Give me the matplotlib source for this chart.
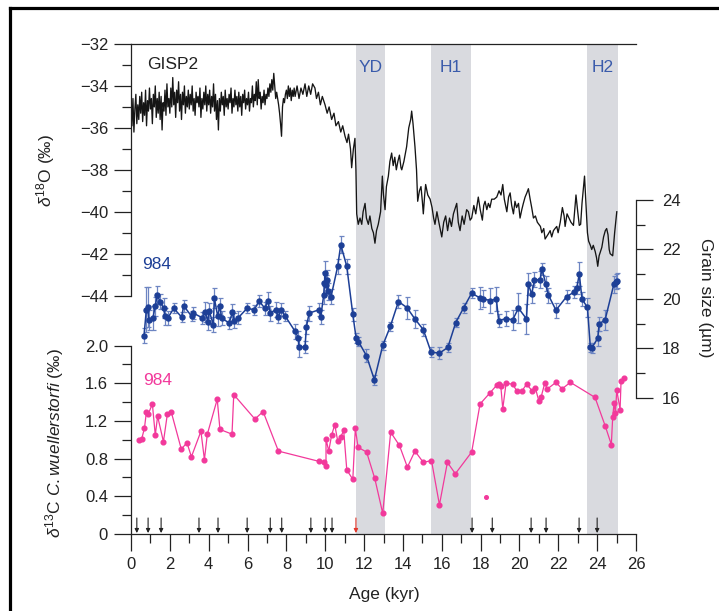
import matplotlib
matplotlib.use("Agg")
import matplotlib.pyplot as plt
import numpy as np
from matplotlib.lines import Line2D
from matplotlib.ticker import MultipleLocator

plt.rcParams["font.family"] = ["Liberation Sans", "DejaVu Sans"]
plt.rcParams["mathtext.fontset"] = "custom"
plt.rcParams["mathtext.rm"] = "Liberation Sans"
plt.rcParams["mathtext.it"] = "Liberation Sans:italic"

# GISP2 d18O, Holocene part on a regular 50-yr grid starting at 0 kyr
HOLO_STEP = 0.05
gisp2_holo = [
    -35.0, -35.9, -34.6, -36.2, -35.1, -34.4, -35.8, -34.9, -35.6, -34.5,
    -35.3, -34.3, -35.7, -34.8, -35.4, -34.2, -35.9, -34.7, -35.2, -34.1,
    -35.1, -34.6, -35.8, -34.4, -35.0, -34.0, -35.5, -34.6, -35.3, -34.3,
    -35.6, -34.5, -36.1, -34.8, -35.2, -34.2, -35.4, -33.9, -35.0, -34.6,
    -35.3, -34.1, -35.0, -33.6, -34.9, -34.3, -35.5, -34.2, -34.8, -33.8,
    -35.2, -34.4, -35.6, -34.3, -34.9, -34.0, -35.3, -34.5, -35.0, -34.2,
    -35.1, -34.4, -34.9, -34.0, -35.2, -34.6, -35.4, -34.3, -34.8, -34.5,
    -35.0, -34.1, -35.5, -34.6, -35.1, -34.3, -34.9, -34.0, -35.2, -34.4,
    -34.9, -34.2, -35.3, -34.5, -35.0, -33.9, -35.2, -34.4, -35.6, -34.7,
    -36.1, -34.6, -35.2, -34.3, -34.9, -34.5, -35.4, -34.2, -35.0, -34.6,
    -35.1, -34.4, -34.8, -34.1, -35.3, -34.6, -35.0, -34.2, -34.9, -34.5,
    -35.2, -34.3, -35.0, -34.5, -35.4, -34.4, -34.8, -34.2, -35.1, -34.6,
    -34.9, -34.3, -35.2, -34.6, -34.8, -34.0, -35.0, -34.4, -34.7, -33.8,
    -34.9, -33.7, -34.6, -34.3, -35.1, -34.5, -34.8, -34.2, -34.9, -34.4,
    -34.6, -34.1, -34.5, -33.9, -34.3, -33.7, -34.2, -33.4, -34.0, -34.6,
    -34.3, -34.6, -34.9, -35.3, -35.8, -36.4, -35.0, -34.6, -34.8, -34.4,
    -34.2, -34.6, -34.0, -34.5, -34.1, -34.7, -34.2, -34.5, -34.1,
]
# GISP2 d18O, deglacial and glacial part
gisp2_age = [
    8.45, 8.55, 8.65, 8.75, 8.85, 8.96, 9.05, 9.15, 9.25, 9.35,
    9.47, 9.55, 9.65, 9.75, 9.85, 9.99, 10.1, 10.2, 10.33, 10.45,
    10.55, 10.68, 10.8, 10.9, 11.02, 11.12, 11.2, 11.3, 11.36, 11.45,
    11.53, 11.58, 11.62, 11.7, 11.79, 11.88, 11.95, 12.05, 12.12, 12.22,
    12.3, 12.4, 12.48, 12.56, 12.64, 12.73, 12.85, 12.94, 13.0, 13.08,
    13.15, 13.25, 13.33, 13.42, 13.5, 13.58, 13.66, 13.74, 13.82, 13.9,
    13.94, 14.05, 14.19, 14.3, 14.4, 14.45, 14.52, 14.62, 14.7, 14.76,
    14.85, 14.93, 15.0, 15.05, 15.12, 15.17, 15.28, 15.4, 15.5, 15.58,
    15.65, 15.75, 15.85, 16.0, 16.1, 16.2, 16.3, 16.4, 16.5, 16.6,
    16.77, 16.85, 16.94, 17.05, 17.15, 17.28, 17.37, 17.46, 17.54, 17.65,
    17.75, 17.88, 17.98, 18.09, 18.16, 18.23, 18.32, 18.4, 18.48, 18.57,
    18.7, 18.83, 18.95, 19.05, 19.14, 19.22, 19.35, 19.44, 19.52, 19.6,
    19.69, 19.77, 19.85, 19.95, 20.03, 20.12, 20.2, 20.29, 20.38, 20.46,
    20.55, 20.63, 20.72, 20.82, 20.92, 21.0, 21.08, 21.15, 21.25, 21.32,
    21.49, 21.58, 21.66, 21.75, 21.83, 21.92, 21.99, 22.1, 22.21, 22.3,
    22.35, 22.45, 22.55, 22.65, 22.78, 22.85, 22.91, 23.0, 23.08, 23.15,
    23.22, 23.3, 23.35, 23.42, 23.5, 23.56, 23.65, 23.72, 23.8, 23.9,
    23.97, 24.03, 24.1, 24.17, 24.24, 24.33, 24.42, 24.49, 24.56, 24.62,
    24.67, 24.8, 24.9, 25.01,
]
gisp2_d18o = [
    -34.5, -34.0, -34.6, -34.1, -34.4, -33.9, -34.5, -34.0, -34.4, -33.9,
    -34.1, -34.6, -34.3, -34.9, -34.5, -34.9, -35.3, -35.0, -35.6, -35.3,
    -35.9, -35.7, -36.2, -35.9, -36.4, -36.7, -36.3, -37.0, -37.9, -37.0,
    -36.5, -38.0, -40.1, -40.6, -40.3, -40.6, -40.0, -39.6, -40.3, -40.6,
    -40.2, -40.8, -41.0, -41.5, -40.9, -40.6, -40.0, -38.3, -39.2, -39.9,
    -38.8, -38.3, -37.6, -37.2, -37.8, -37.4, -38.0, -37.6, -37.3, -37.9,
    -38.0, -37.6, -36.9, -36.0, -35.6, -35.2, -35.8, -36.9, -38.0, -39.5,
    -39.0, -38.8, -39.5, -40.1, -39.2, -38.7, -39.2, -39.4, -39.8, -40.3,
    -40.6, -40.0, -40.5, -41.2, -40.5, -40.2, -40.9, -40.3, -40.7, -40.1,
    -39.6, -40.5, -40.9, -40.2, -40.6, -39.9, -40.0, -40.4, -40.3, -39.7,
    -40.1, -39.3, -39.9, -40.4, -39.7, -39.5, -39.9, -39.6, -39.8, -39.4,
    -39.4, -39.3, -39.0, -39.2, -38.7, -39.4, -40.0, -39.3, -39.1, -39.7,
    -40.1, -39.5, -39.8, -39.6, -40.3, -39.9, -39.6, -39.3, -39.1, -38.9,
    -39.4, -39.8, -40.3, -40.2, -40.5, -40.6, -40.7, -41.0, -40.8, -41.3,
    -41.05, -40.9, -41.2, -40.9, -40.8, -40.7, -41.0, -40.5, -39.8, -40.2,
    -40.7, -40.1, -40.3, -40.5, -40.65, -39.9, -39.2, -40.0, -40.65, -40.6,
    -39.6, -38.8, -38.3, -39.6, -41.0, -41.4, -41.6, -41.8, -41.6, -41.9,
    -42.2, -42.6, -42.1, -41.9, -41.7, -41.2, -40.9, -40.8, -41.1, -41.8,
    -42.0, -42.1, -41.0, -40.0,
]

# core 984 grain size (um) with error bars
blue_age = [
    0.67, 0.79, 0.86, 0.91, 1.13, 1.24, 1.36, 1.49, 1.68, 1.75,
    1.89, 2.20, 2.61, 2.71, 3.12, 3.21, 3.67, 3.83, 3.95, 4.02,
    4.24, 4.29, 4.46, 4.58, 4.67, 5.05, 5.22, 5.32, 5.53, 5.97,
    6.35, 6.59, 6.90, 7.04, 7.17, 7.45, 7.59, 7.72, 7.93, 8.45,
    8.62, 8.64, 8.96, 9.03, 9.17, 9.70, 9.77, 9.92, 9.96, 10.00,
    10.04, 10.07, 10.16, 10.30, 10.64, 10.80, 11.11, 11.42, 11.59, 11.71,
    12.12, 12.53, 12.96, 13.35, 13.77, 14.21, 14.62, 15.05, 15.45, 15.88,
    16.31, 16.72, 17.13, 17.54, 17.95, 18.13, 18.49, 18.81, 18.93, 19.33,
    19.65, 19.95, 20.36, 20.46, 20.63, 20.77, 21.06, 21.16, 21.35, 21.49,
    21.88, 22.43, 22.83, 22.95, 23.08, 23.22, 23.50, 23.65, 23.72, 24.03,
    24.10, 24.41, 24.86, 24.96, 25.04,
]
blue_size = [
    18.50, 19.56, 19.66, 19.15, 19.22, 19.69, 20.16, 19.89, 19.62, 19.29,
    19.22, 19.61, 19.26, 19.72, 19.29, 19.42, 19.23, 19.47, 19.07, 19.52,
    18.95, 20.03, 19.31, 19.69, 19.22, 19.02, 19.45, 19.12, 19.24, 19.61,
    19.56, 19.91, 19.61, 19.93, 19.42, 19.56, 19.26, 19.56, 19.31, 18.68,
    18.41, 18.05, 18.05, 18.86, 19.42, 19.56, 19.26, 20.15, 20.63, 21.04,
    20.55, 20.77, 20.30, 20.09, 21.31, 22.19, 21.31, 19.37, 18.41, 18.27,
    17.70, 16.72, 18.11, 18.88, 19.89, 19.64, 19.18, 18.75, 17.84, 17.80,
    18.03, 19.04, 19.64, 20.23, 20.04, 20.00, 19.93, 19.99, 19.12, 19.20,
    19.15, 19.62, 19.19, 20.59, 20.19, 20.77, 20.77, 21.21, 20.61, 20.15,
    19.54, 20.09, 20.28, 20.43, 21.01, 19.99, 19.65, 18.03, 18.01, 18.40,
    18.98, 19.15, 20.59, 20.70, 20.73,
]
blue_err = [
    0.30, 0.90, 0.80, 0.40, 0.50, 0.40, 0.35, 0.30, 0.40, 0.35,
    0.30, 0.20, 0.20, 0.25, 0.20, 0.25, 0.25, 0.40, 0.35, 0.30,
    0.30, 0.40, 0.40, 0.35, 0.30, 0.25, 0.35, 0.30, 0.25, 0.20,
    0.20, 0.25, 0.25, 0.35, 0.30, 0.30, 0.25, 0.25, 0.20, 0.30,
    0.30, 0.40, 0.25, 0.30, 0.30, 0.25, 0.30, 0.35, 0.45, 0.50,
    0.40, 0.40, 0.35, 0.30, 0.30, 0.35, 0.30, 0.25, 0.20, 0.20,
    0.25, 0.20, 0.20, 0.20, 0.25, 0.45, 0.35, 0.25, 0.20, 0.25,
    0.20, 0.20, 0.20, 0.20, 0.45, 0.35, 0.50, 0.50, 0.25, 0.30,
    0.40, 0.60, 0.60, 0.45, 0.35, 0.30, 0.35, 0.25, 0.30, 0.30,
    0.30, 0.25, 0.25, 0.25, 0.50, 0.30, 0.40, 0.20, 0.20, 0.30,
    0.30, 0.40, 0.35, 0.30, 0.30,
]

# core 984 benthic d13C (C. wuellerstorfi)
pink_age = [
    0.43, 0.55, 0.69, 0.79, 0.88, 1.10, 1.25, 1.37, 1.67, 1.87,
    2.08, 2.59, 2.88, 3.11, 3.60, 3.78, 3.93, 4.44, 4.58, 5.20,
    5.29, 6.38, 6.80, 7.59, 9.70, 9.95, 10.04, 10.04, 10.18, 10.33,
    10.49, 10.64, 10.80, 10.95, 11.11, 11.42, 11.55, 11.69, 12.13, 12.55,
    12.96, 13.37, 13.82, 14.23, 14.62, 15.05, 15.47, 15.88, 16.29, 16.70,
    17.54, 17.97, 18.49, 18.83, 18.93, 19.04, 19.14, 19.31, 19.65, 19.86,
    20.13, 20.37, 20.65, 20.82, 21.00, 21.11, 21.30, 21.44, 21.88, 22.19,
    22.62, 23.89, 24.41, 24.73, 24.80, 24.87, 24.94, 25.01, 25.18, 25.23,
    25.37,
]
pink_d13c = [
    1.00, 1.01, 1.12, 1.29, 1.27, 1.38, 1.05, 1.25, 0.98, 1.27,
    1.29, 0.90, 0.97, 0.82, 1.09, 0.79, 1.06, 1.43, 1.11, 1.06,
    1.48, 1.22, 1.30, 0.88, 0.77, 0.76, 0.72, 1.01, 0.88, 1.05,
    1.16, 0.99, 1.03, 1.10, 0.68, 0.58, 1.12, 0.92, 0.87, 0.59,
    0.22, 1.08, 0.94, 0.71, 0.88, 0.76, 0.78, 0.31, 0.76, 0.64,
    0.87, 1.38, 1.50, 1.58, 1.59, 1.57, 1.33, 1.60, 1.59, 1.52,
    1.52, 1.59, 1.52, 1.55, 1.41, 1.45, 1.60, 1.54, 1.61, 1.54,
    1.61, 1.45, 1.15, 0.95, 1.24, 1.39, 1.28, 1.53, 1.32, 1.62,
    1.66,
]
pink_lone_age = [18.30]
pink_lone_d13c = [0.39]

# event bands and dated levels
bands = [("YD", 11.58, 13.08), ("H1", 15.45, 17.5), ("H2", 23.5, 25.08)]
date_ages = [0.3, 0.88, 1.55, 3.5, 4.48, 5.98, 7.17, 7.76, 9.26, 10.0,
             10.35, 11.58, 17.56, 18.6, 20.6, 21.37, 23.07, 24.0]
date_red = 11.58

BLUE = "#1d3f96"
BLUE_ERR = "#6d85c2"
PINK = "#f2399b"
LABEL_BLUE = "#3a5bab"
BAND = "#d9dadf"
INK = "#222222"

W, H = 719, 611
fig = plt.figure(figsize=(W / 100, H / 100), dpi=100)

X0, X1 = 131, 636
Y_TOP, Y_BOT = 44, 534
rect = [X0 / W, 1 - Y_BOT / H, (X1 - X0) / W, (Y_BOT - Y_TOP) / H]


def ylim_for(value, px, px_per_unit):
    return value - (Y_BOT - px) / px_per_unit, value + (px - Y_TOP) / px_per_unit


def style(ax):
    ax.patch.set_visible(False)
    ax.set_xlim(0, 26)
    for s in ax.spines.values():
        s.set_visible(False)
        s.set_linewidth(0.9)
        s.set_color(INK)
    ax.tick_params(which="major", length=12.5, width=0.9, color=INK,
                   labelsize=12, labelcolor=INK, pad=4)
    ax.tick_params(which="minor", length=6.5, width=0.9, color=INK)


base = fig.add_axes(rect)
style(base)
base.set_ylim(0, 1)
base.spines["top"].set_visible(True)
base.spines["bottom"].set_visible(True)
base.set_yticks([])
base.xaxis.set_major_locator(MultipleLocator(2))
base.xaxis.set_minor_locator(MultipleLocator(1))
for name, a0, a1 in bands:
    base.axvspan(a0, a1, ymin=0, ymax=1.005, color=BAND, lw=0, zorder=0)
    base.text((a0 + a1) / 2, 0.953, name, ha="center", va="center",
              color=LABEL_BLUE, fontsize=12.5)

# GISP2 oxygen isotopes, upper left scale
ax_o = fig.add_axes(rect)
style(ax_o)
ax_o.set_ylim(*ylim_for(-32, 44, 20.97))
ax_o.spines["left"].set_visible(True)
ax_o.spines["left"].set_bounds(-44, -32)
ax_o.set_xticks([])
ax_o.set_yticks(np.arange(-44, -31, 2))
ax_o.set_yticks(np.arange(-43, -32, 2), minor=True)
holo_age = np.arange(len(gisp2_holo)) * HOLO_STEP
ax_o.plot(np.concatenate([holo_age, gisp2_age]),
          np.concatenate([gisp2_holo, gisp2_d18o]),
          color="#151515", lw=0.95)
ax_o.text(0.85, -33.0, "GISP2", fontsize=12.5, color=INK, va="center")

# grain size, right scale
ax_g = fig.add_axes(rect)
style(ax_g)
ax_g.set_ylim(*ylim_for(24, 200, 24.7))
ax_g.spines["right"].set_visible(True)
ax_g.spines["right"].set_bounds(16, 24)
ax_g.set_xticks([])
ax_g.yaxis.tick_right()
ax_g.set_yticks([16, 18, 20, 22, 24])
ax_g.set_yticks([17, 19, 21, 23], minor=True)
ax_g.tick_params(axis="y", which="major", pad=6)
ax_g.errorbar(blue_age, blue_size, yerr=blue_err, fmt="none",
              ecolor=BLUE_ERR, elinewidth=0.9, capsize=1.8, capthick=0.9)
ax_g.plot(blue_age, blue_size, color=BLUE, lw=1.1, marker="o", ms=3.6)
ax_g.text(0.55, 21.4, "984", fontsize=12.5, color=BLUE, va="center")

# benthic carbon isotopes, lower left scale
ax_c = fig.add_axes(rect)
style(ax_c)
ax_c.set_ylim(*ylim_for(0, 534, 94.2))
ax_c.spines["left"].set_visible(True)
ax_c.spines["left"].set_bounds(0, 2.0)
ax_c.set_xticks([])
ax_c.set_yticks([0, 0.4, 0.8, 1.2, 1.6, 2.0])
ax_c.set_yticklabels(["0", "0.4", "0.8", "1.2", "1.6", "2.0"])
ax_c.set_yticks([0.2, 0.6, 1.0, 1.4, 1.8], minor=True)
ax_c.plot(pink_age, pink_d13c, color=PINK, lw=0.9, marker="o", ms=3.4)
ax_c.plot(pink_lone_age, pink_lone_d13c, "o", color=PINK, ms=2.6)
ax_c.text(0.6, 1.63, "984", fontsize=12.5, color=PINK, va="center")

for a in date_ages:
    c = "#e2372b" if a == date_red else INK
    ax_c.annotate("", xy=(a, 0.01), xytext=(a, 0.17),
                  arrowprops=dict(arrowstyle="-|>", lw=0.8, color=c,
                                  mutation_scale=6, shrinkA=0, shrinkB=0))

fig.text(46 / W, 1 - 170 / H, r"$\delta^{18}$O (‰)", rotation=90,
         ha="center", va="center", fontsize=12.5, color=INK)
fig.text(55 / W, 1 - 443 / H, r"$\delta^{13}$C $\mathit{C.wuellerstorfi}$ (‰)",
         rotation=90, ha="center", va="center", fontsize=12.5, color=INK)
fig.text(705 / W, 1 - 298 / H, "Grain size (µm)", rotation=-90,
         ha="center", va="center", fontsize=12.5, color=INK)
fig.text(384 / W, 1 - 595 / H, "Age (kyr)", ha="center", va="center",
         fontsize=12.5, color=INK)

# page frame on the left and top edges
fig.add_artist(Line2D([10 / W, 10 / W], [0, 1 - 8 / H], transform=fig.transFigure,
                      color="black", lw=2.3))
fig.add_artist(Line2D([10 / W, 1], [1 - 8 / H, 1 - 8 / H], transform=fig.transFigure,
                      color="black", lw=2.3))

fig.savefig("out.png", dpi=100)
